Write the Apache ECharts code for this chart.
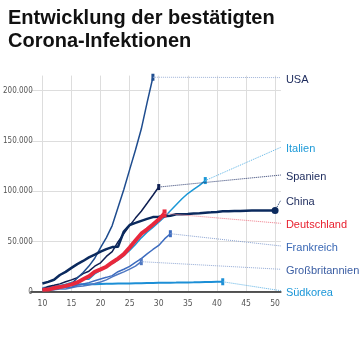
<!DOCTYPE html>
<html>
<head>
<meta charset="utf-8">
<style>
html,body{margin:0;padding:0;background:#fff;}
#chart{width:360px;height:360px;}
</style>
<script src="https://cdn.jsdelivr.net/npm/echarts@6/dist/echarts.min.js"></script>
</head>
<body>
<div id="chart"></div>
<script>
// Tage seit dem 100. Fall (ab Tag 10)
const startDay = 10;
const usa = [2183, 2770, 3613, 4596, 6344, 7800, 13680, 19100, 25489, 33276, 43847, 53740, 65778, 83836, 101657, 121465, 140909, 161831, 188172, 213372];
const italien = [3089, 3858, 4636, 5883, 7375, 9172, 10149, 12462, 12462, 17660, 21157, 24747, 27980, 31506, 35713, 41035, 47021, 53578, 59138, 63927, 69176, 74386, 80589, 86498, 92472, 97689, 101739, 105792, 110574];
const spanien = [2277, 5232, 6391, 7798, 9942, 11748, 13910, 17963, 20410, 25374, 28768, 35136, 39885, 49515, 57786, 65719, 73235, 80110, 87956, 95923, 104118];
const china = [8141, 9802, 11891, 16630, 19716, 23707, 27440, 30587, 34110, 36814, 39829, 42354, 44386, 44759, 59895, 66358, 68413, 70513, 72434, 74211, 74619, 75077, 75550, 77001, 77022, 77241, 77754, 78166, 78600, 78928, 79356, 79932, 80136, 80261, 80386, 80537, 80690, 80770, 80823, 80860, 80887];
const deutschland = [1908, 2078, 3675, 4585, 5795, 7272, 9257, 12327, 15320, 19848, 22213, 24873, 29056, 32986, 37323, 43938, 50871, 57695, 62095, 66885, 71808, 77872];
const frankreich = [1784, 2281, 2281, 3661, 4469, 4499, 6633, 7652, 9043, 10871, 12612, 14282, 16018, 19856, 22304, 25233, 29155, 32964, 37575, 42000, 46000, 52500, 57700];
const grossbritannien = [1144, 1551, 1960, 2642, 2716, 4014, 5067, 5745, 6726, 8164, 9640, 11812, 14745, 17312, 19780, 22453, 25481, 29865];
const suedkorea = [3736, 4335, 5186, 5621, 6088, 6593, 7041, 7314, 7478, 7513, 7755, 7869, 7979, 8086, 8162, 8236, 8320, 8413, 8565, 8652, 8799, 8897, 8961, 9037, 9137, 9241, 9332, 9478, 9583, 9661, 9786, 9887];
const xTicks = [10, 15, 20, 25, 30, 35, 40, 45, 50];
const yTicks = [0, 50000, 100000, 150000, 200000];
// Beschriftungs-Positionen (Wert an der rechten Kante)
const labelAnchorX = 51;
const labelAnchorY = {USA: 213000, Italien: 143700, Spanien: 116100, China: 91200, Deutschland: 68000, Frankreich: 45500, 'Großbritannien': 22300, 'Südkorea': 1000};

const styles = {
  'Südkorea':      {line: '#1c8fd6', width: 2,   label: '#1a96d8', leader: '#5fb3e6', sym: 'rect', size: [3, 7]},
  'Großbritannien':{line: '#4f78c2', width: 1.5, label: '#3a5da3', leader: '#93aad6', sym: 'rect', size: [3, 7]},
  'Frankreich':    {line: '#3d6cbf', width: 1.5, label: '#3a68b5', leader: '#8aa3d2', sym: 'rect', size: [3, 7]},
  'Italien':       {line: '#1a97d6', width: 1.5, label: '#1e9ad8', leader: '#5db4e6', sym: 'rect', size: [3, 7]},
  'Spanien':       {line: '#0f1f52', width: 1.5, label: '#1c2a5c', leader: '#2a3a6e', sym: 'rect', size: [3, 6]},
  'USA':           {line: '#1f4d8f', width: 1.5, label: '#1c2a5c', leader: '#9fb3d8', sym: 'rect', size: [3, 7]},
  'China':         {line: '#0b2a5e', width: 2.5, label: '#1c2a5c', leader: '#0b2a5e', sym: 'circle', size: 7},
  'Deutschland':   {line: '#e8283c', width: 4,   label: '#e8202f', leader: '#f07a88', sym: 'rect', size: [4, 8]}
};
const seriesData = {
  'Südkorea': suedkorea, 'Großbritannien': grossbritannien, 'Frankreich': frankreich,
  'Italien': italien, 'Spanien': spanien, 'USA': usa, 'China': china, 'Deutschland': deutschland
};

function fmt(v) { return String(v).replace(/\B(?=(\d{3})+(?!\d))/g, '.'); }

const series = Object.keys(seriesData).map(function (name) {
  const vals = seriesData[name];
  const st = styles[name];
  const n = vals.length;
  const data = vals.map(function (v, i) {
    const p = [startDay + i, v];
    if (i === n - 1) {
      return {value: p, symbol: st.sym, symbolSize: st.size, itemStyle: {color: st.line}};
    }
    return {value: p};
  });
  return {
    name: name,
    type: 'line',
    data: data,
    symbol: 'none',
    showSymbol: true,
    animation: false,
    lineStyle: {color: st.line, width: st.width},
    itemStyle: {color: st.line},
    markLine: {
      silent: true,
      symbol: ['none', 'none'],
      animation: false,
      label: {show: false},
      lineStyle: {type: 'dotted', color: st.leader, width: 1},
      data: [[{coord: [startDay + n - 1, vals[n - 1]]}, {coord: [labelAnchorX, labelAnchorY[name]]}]]
    },
    markPoint: {
      silent: true,
      animation: false,
      symbol: 'circle',
      symbolSize: 0,
      label: {
        show: true, position: 'right', distance: 5, offset: [0, 2],
        formatter: name, color: st.label, fontSize: 11,
        fontFamily: 'Liberation Sans, Arial, sans-serif'
      },
      data: [{coord: [labelAnchorX, labelAnchorY[name]]}]
    }
  };
});

const chart = echarts.init(document.getElementById('chart'), null, {renderer: 'canvas'});
chart.setOption({
  animation: false,
  backgroundColor: '#ffffff',
  title: {
    text: 'Entwicklung der bestätigten\nCorona-Infektionen',
    left: 3, top: 2,
    textStyle: {fontFamily: 'Liberation Sans, Arial, sans-serif', fontWeight: 'bold', fontSize: 20, lineHeight: 23, color: '#111'}
  },
  grid: {left: 30.7, right: 79.1, top: 75.6, bottom: 68.3, containLabel: false},
  xAxis: {
    type: 'value', min: 8, max: 51, interval: 1,
    axisLine: {show: true, onZero: false, lineStyle: {color: '#222', width: 1.5}},
    axisTick: {show: false},
    axisLabel: {
      margin: 8, color: '#555', fontSize: 8.5,
      fontFamily: 'Liberation Sans Narrow, DejaVu Sans Condensed, sans-serif',
      formatter: function (v) { return xTicks.indexOf(v) >= 0 ? String(v) : ''; }
    },
    splitLine: {show: true, lineStyle: {color: ['rgba(0,0,0,0)', 'rgba(0,0,0,0)', '#dddddd', 'rgba(0,0,0,0)', 'rgba(0,0,0,0)'], width: 1}}
  },
  yAxis: {
    type: 'value', min: 0, max: 215000, interval: 50000,
    axisLine: {show: false},
    axisTick: {show: false},
    axisLabel: {
      margin: -2, color: '#555', fontSize: 8,
      fontFamily: 'Liberation Sans Narrow, DejaVu Sans Condensed, sans-serif',
      formatter: function (v) { return yTicks.indexOf(v) >= 0 ? fmt(v) : ''; }
    },
    splitLine: {show: true, lineStyle: {color: ['#dddddd', '#dddddd', '#dddddd', '#dddddd', '#dddddd', 'rgba(0,0,0,0)'], width: 1}}
  },
  series: series
});
</script>
</body>
</html>
